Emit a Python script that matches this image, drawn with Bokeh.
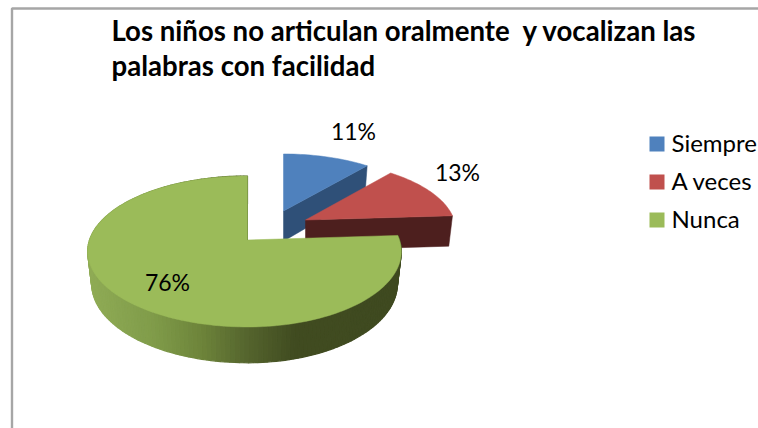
import math
from bokeh.plotting import figure
from bokeh.models import Range1d
from bokeh.core.properties import value
from bokeh.embed import file_html
from bokeh.resources import INLINE

# data
title_lines = ["Los niños no articulan oralmente \u00a0y vocalizan las", "palabras con facilidad"]
categories = ["Siempre", "A veces", "Nunca"]
percents = [11, 13, 76]
top_colors = ["#4F81BD", "#C0504D", "#9BBB59"]
side_colors = ["#2F5078", "#4D1F1E", "#3F4A20"]

# layout of the projected 3-D pie, in page pixels
APEX_X, APEX_Y = 247.0, 239.5
R_Y, PERSP = 73.75, 0.152
DEPTH, DEPTH_POWER, BOTTOM_SCALE = 31.6, 0.76, 0.975
SHIFT_X = [36.0, 58.0, 0.0]          # explosion, pixels to the right
SHIFT_V = [0.418, 0.283, 0.0]        # explosion, towards the back
R_LEFT = [155.0, 155.0, 158.0]
R_RIGHT = [155.0, 155.0, 152.0]
WALL_STOPS = [(88, (0x8F, 0xAB, 0x55)), (150, (0x80, 0x9C, 0x4A)), (200, (0x6D, 0x84, 0x3A)),
              (245, (0x55, 0x65, 0x2E)), (295, (0x40, 0x4B, 0x20)), (402, (0x3F, 0x4A, 0x20))]

FONT = value("Lato")

def project(i, u, v):
    den = 1 + PERSP * v
    r = R_LEFT[i] if u < 0 else R_RIGHT[i]
    return APEX_X + SHIFT_X[i] + r * u / den, APEX_Y - R_Y * v / den

def lower(i, u, v):
    x, y = project(i, u, v)
    cx = APEX_X + SHIFT_X[i]
    return cx + (x - cx) * BOTTOM_SCALE, y + DEPTH / (1 + PERSP * v) ** DEPTH_POWER

def wall_color(x):
    for (x0, c0), (x1, c1) in zip(WALL_STOPS, WALL_STOPS[1:]):
        if x <= x1:
            t = max(0.0, (x - x0) / (x1 - x0))
            return "#%02X%02X%02X" % tuple(round(a + (b - a) * t) for a, b in zip(c0, c1))
    return "#3F4A20"

p = figure(width=758, height=428, output_backend="svg", toolbar_location=None,
           x_range=Range1d(0, 758), y_range=Range1d(428, 0), min_border=0)
p.axis.visible = False
p.grid.visible = False
p.outline_line_color = None

# chart frame
p.line([758, 11.5, 11.5], [8, 8, 428], line_color="#A6A6A6", line_width=2.4)

# slices
start = 0.0
edges = []
for pct in percents:
    edges.append((start, start + pct * 3.6))
    start += pct * 3.6

for i in range(3):
    a0, a1 = edges[i]
    ev = SHIFT_V[i]
    def pt(a):
        r = math.radians(a)
        return math.sin(r), ev + math.cos(r)
    n = max(4, int((a1 - a0) / 1.5))
    arc = [pt(a0 + (a1 - a0) * k / n) for k in range(n + 1)]
    centre = (0.0, ev)
    if i < 2:
        # cut face along the slice's trailing edge
        a, b = project(i, *centre), project(i, *arc[-1])
        c, d = lower(i, *arc[-1]), lower(i, *centre)
        p.patch([a[0], b[0], c[0], d[0]], [a[1], b[1], c[1], d[1]],
                fill_color=side_colors[i], line_color=side_colors[i], line_width=0.5)
    else:
        # outer wall with a horizontal shading
        xs, ys, cs = [], [], []
        for q0, q1 in zip(arc, arc[1:]):
            A, B = project(i, *q0), project(i, *q1)
            C, D = lower(i, *q1), lower(i, *q0)
            xs.append([A[0], B[0], C[0], D[0]])
            ys.append([A[1], B[1], C[1], D[1]])
            cs.append(wall_color((A[0] + B[0]) / 2))
        p.patches(xs, ys, fill_color=cs, line_color=cs, line_width=1.2)
    poly = [project(i, *centre)] + [project(i, *q) for q in arc]
    p.patch([q[0] for q in poly], [q[1] for q in poly],
            fill_color=top_colors[i], line_color=top_colors[i], line_width=0.5)
    if i == 2:
        e0, e1 = project(i, *centre), project(i, *arc[-1])
        p.line([e0[0], e1[0]], [e0[1], e1[1]], line_color="#7F9C48", line_width=1)

# data labels
label_x = [353, 457, 167]
label_y = [130, 171, 281.5]
p.text(label_x, label_y, text=[f"{v}%" for v in percents], text_font=FONT, text_font_size="23px",
       text_color="#000000", text_align="center", text_baseline="middle")

# title
p.text([111, 111], [30, 65], text=title_lines, text_font=FONT, text_font_style="bold",
       text_font_size="27.6px", text_color="#000000", text_align="left", text_baseline="middle")

# legend
leg_y = [143.5, 181.5, 219.5]
p.rect([656.5] * 3, leg_y, width=15, height=15, fill_color=top_colors, line_color=None)
p.text([671] * 3, [y - 1.5 for y in leg_y], text=categories, text_font=FONT, text_font_size="24px",
       text_color="#000000", text_align="left", text_baseline="middle")

open("out.html", "w").write(file_html(p, INLINE))
